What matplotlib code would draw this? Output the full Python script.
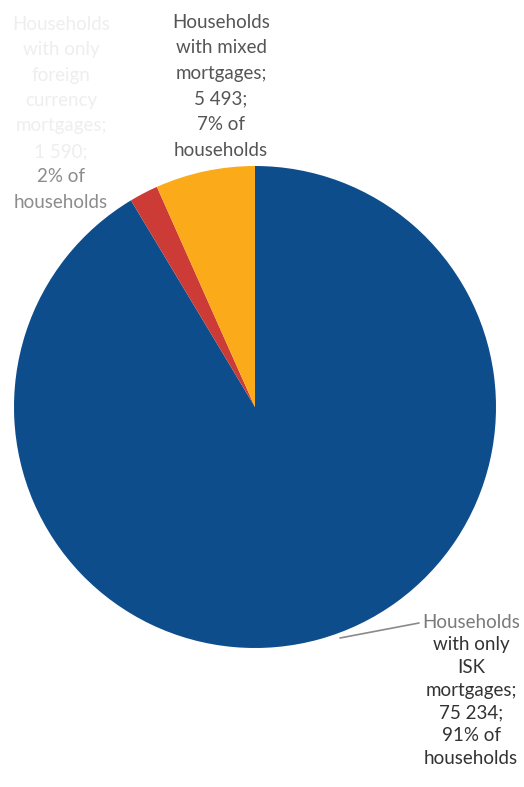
import matplotlib
matplotlib.use("Agg")
import matplotlib.pyplot as plt

# Households by mortgage currency mix
categories = ["Households with only ISK mortgages",
              "Households with only FX mortgages",
              "Households with mixed mortgages"]
households = [75234, 1590, 5493]
shares_pct = [91, 2, 7]
colors = ["#0d4d8c", "#cc3b35", "#fbab1a"]

label_isk = ["Households", "with only", "ISK", "mortgages;", "75 234;", "91% of", "households"]
label_mixed = ["Households", "with mixed", "mortgages;", "5 493;", "7% of", "households"]
label_fx = ["Households", "with only", "foreign", "currency", "mortgages;", "1 590;", "2% of", "households"]

W, H = 524, 787
fig = plt.figure(figsize=(W / 100, H / 100), dpi=100)
ax = fig.add_axes([0, 0, 1, 1])

cx, cy, r = 255, H - 407, 241
ax.pie(households, colors=colors, startangle=90, counterclock=False,
       center=(cx, cy), radius=r, frame=True,
       wedgeprops=dict(linewidth=0))
ax.set_xlim(0, W)
ax.set_ylim(0, H)
ax.set_aspect("equal")
ax.axis("off")

font = "Lato"
fs = 13.5


def draw_label(lines, x, y_top, step, colors_per_line):
    for i, (txt, c) in enumerate(zip(lines, colors_per_line)):
        ax.text(x, H - (y_top + i * step), txt, ha="center", va="center",
                fontsize=fs, family=font, color=c)


# ISK label with leader line
draw_label(label_isk, 471, 622, 22.7,
           ["#7a7a7a"] + ["#333333"] * 6)
ax.plot([340, 419], [H - 638, H - 623], color="#8a8a8a", lw=1.2,
        solid_capstyle="round")

# Mixed label above the orange slice
draw_label(label_mixed, 221, 22, 25.6, ["#555555"] * 6)

# FX-only label, upper left
draw_label(label_fx, 61, 24, 25.5, ["#eeeeee"] * 6 + ["#8c8c8c"] * 2)

fig.savefig("out.png", dpi=100)
